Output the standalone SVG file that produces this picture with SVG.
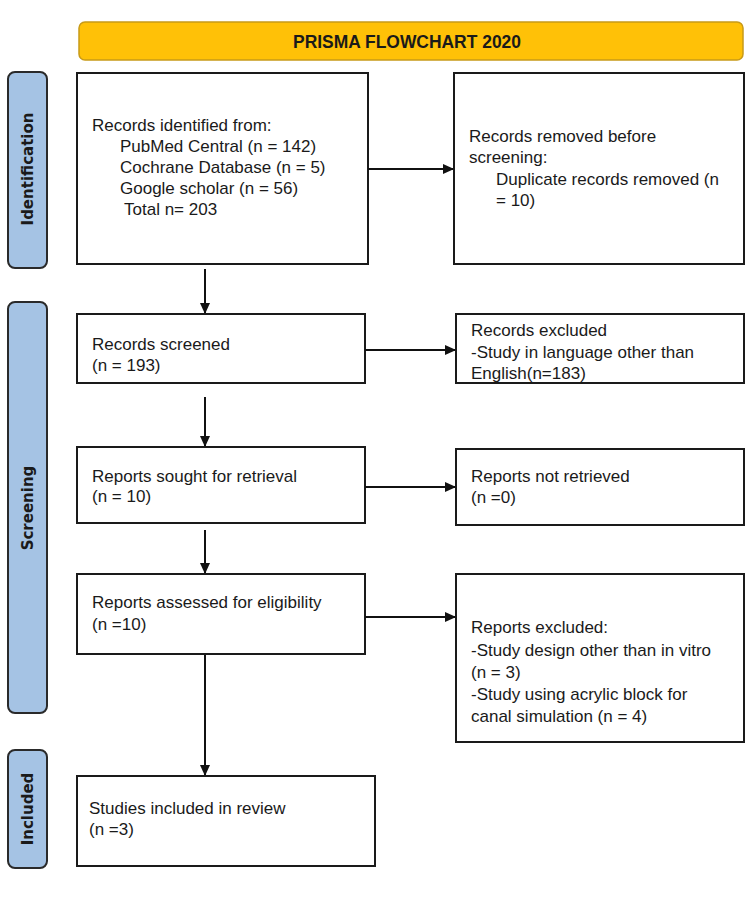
<svg xmlns="http://www.w3.org/2000/svg" width="750" height="905" viewBox="0 0 750 905">
<style>
.box{fill:#fff;stroke:#1a1a1a;stroke-width:2}
.side{fill:#a5c3e4;stroke:#2a2a2a;stroke-width:2}
.t{font-family:"Liberation Sans",Arial,sans-serif;font-size:17px;fill:#1a1a1a}
.n{font-family:"Liberation Sans",Arial,sans-serif;font-size:17px;fill:#1a1a1a}
.s{font-family:"DejaVu Sans",sans-serif;font-weight:bold;font-size:15px;fill:#1a1a1a}
.c{stroke:#111;stroke-width:2;fill:none;marker-end:url(#ah)}
</style>
<defs>
<marker id="ah" markerWidth="10" markerHeight="12" refX="10" refY="5" orient="auto" markerUnits="userSpaceOnUse">
<path d="M0,0 L11,5 L0,10 z" fill="#111"/>
</marker>
</defs>
<rect width="750" height="905" fill="#fff"/>
<g id="title">
<rect x="79" y="22" width="664" height="38" rx="6" fill="#ffc107" stroke="#c89a18" stroke-width="1.5"/>
<text x="407" y="48" text-anchor="middle" font-family="Liberation Sans,Arial,sans-serif" font-weight="bold" font-size="18" textLength="228" lengthAdjust="spacingAndGlyphs" fill="#1a1a1a">PRISMA FLOWCHART 2020</text>
</g>
<g id="side-identification">
<rect class="side" x="8" y="72" width="39" height="196" rx="7"/>
<text class="s" transform="translate(33,169) rotate(-90)" text-anchor="middle">Identification</text>
</g>
<g id="side-screening">
<rect class="side" x="8" y="302" width="39" height="411" rx="7"/>
<text class="s" transform="translate(33,508) rotate(-90)" text-anchor="middle">Screening</text>
</g>
<g id="side-included">
<rect class="side" x="8" y="750" width="39" height="118" rx="7"/>
<text class="s" transform="translate(33,809) rotate(-90)" text-anchor="middle">Included</text>
</g>
<g id="identified">
<rect class="box" x="77" y="73" width="291" height="191"/>
<text class="t" x="92" y="131">Records identified from:</text>
<text class="t" x="120" y="152">PubMed Central (n = 142)</text>
<text class="t" x="120" y="173">Cochrane Database (n = 5)</text>
<text class="t" x="120" y="194">Google scholar (n = 56)</text>
<text class="t" x="124" y="215">Total n= 203</text>
</g>
<g id="removed">
<rect class="box" x="454" y="73" width="290" height="191"/>
<text class="t" x="469" y="142">Records removed before</text>
<text class="t" x="469" y="163">screening:</text>
<text class="t" x="496" y="185">Duplicate records removed (n</text>
<text class="t" x="496" y="206">= 10)</text>
</g>
<g id="screened">
<rect class="box" x="77" y="314" width="288" height="69"/>
<text class="n" x="92" y="350">Records screened</text>
<text class="n" x="92" y="371">(n = 193)</text>
</g>
<g id="excluded">
<rect class="box" x="456" y="314" width="288" height="69"/>
<text class="n" x="471" y="336">Records excluded</text>
<text class="n" x="471" y="358">-Study in language other than</text>
<text class="n" x="471" y="379">English(n=183)</text>
</g>
<g id="sought">
<rect class="box" x="77" y="447" width="288" height="76"/>
<text class="n" x="92" y="482">Reports sought for retrieval</text>
<text class="n" x="92" y="502">(n = 10)</text>
</g>
<g id="notretrieved">
<rect class="box" x="456" y="449" width="288" height="76"/>
<text class="n" x="471" y="482">Reports not retrieved</text>
<text class="n" x="471" y="503">(n =0)</text>
</g>
<g id="assessed">
<rect class="box" x="77" y="574" width="288" height="80"/>
<text class="n" x="92" y="608">Reports assessed for eligibility</text>
<text class="n" x="92" y="630">(n =10)</text>
</g>
<g id="reportsexcluded">
<rect class="box" x="456" y="574" width="288" height="168"/>
<text class="n" x="471" y="633">Reports excluded:</text>
<text class="n" x="471" y="656">-Study design other than in vitro</text>
<text class="n" x="471" y="678">(n = 3)</text>
<text class="n" x="471" y="700">-Study using acrylic block for</text>
<text class="n" x="471" y="722">canal simulation (n = 4)</text>
</g>
<g id="included">
<rect class="box" x="77" y="776" width="298" height="90"/>
<text class="n" x="89" y="814">Studies included in review</text>
<text class="n" x="89" y="835">(n =3)</text>
</g>
<g id="connectors">
<line class="c" x1="368" y1="169" x2="453" y2="169"/>
<line class="c" x1="205" y1="269" x2="205" y2="313"/>
<line class="c" x1="365" y1="350" x2="455" y2="350"/>
<line class="c" x1="205" y1="397" x2="205" y2="446"/>
<line class="c" x1="365" y1="487" x2="455" y2="487"/>
<line class="c" x1="205" y1="530" x2="205" y2="573"/>
<line class="c" x1="365" y1="617" x2="455" y2="617"/>
<line class="c" x1="205" y1="655" x2="205" y2="775"/>
</g>
</svg>
